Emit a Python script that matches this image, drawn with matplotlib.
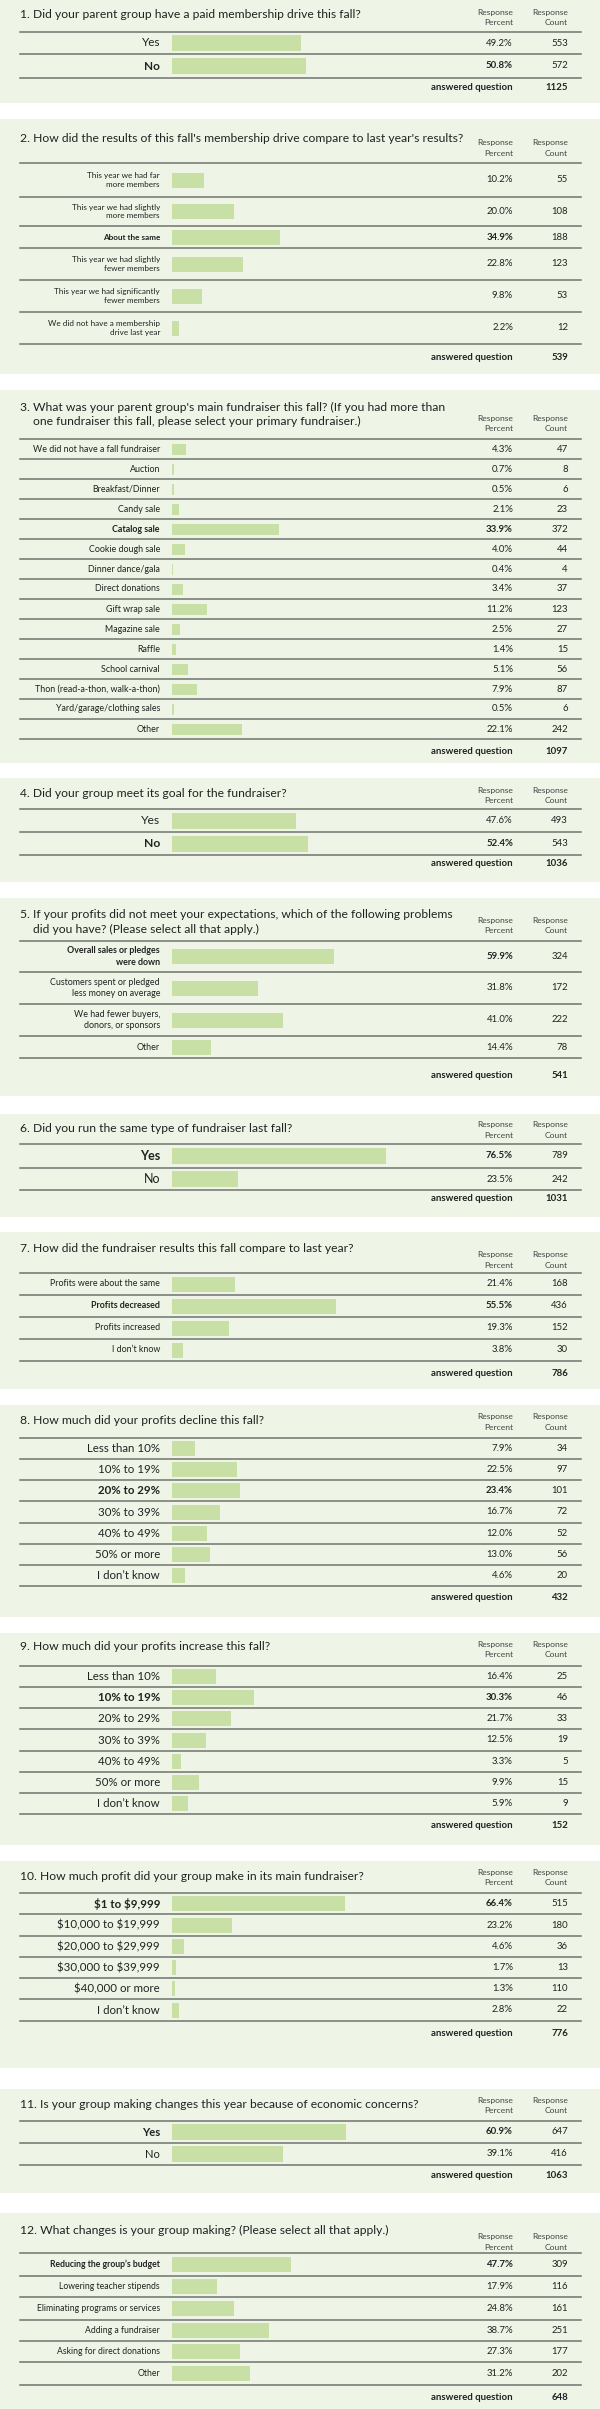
import numpy as np
import matplotlib
matplotlib.use("Agg")
import matplotlib.pyplot as plt
from matplotlib.lines import Line2D
from matplotlib.patches import Rectangle

plt.rcParams['font.family'] = ['Lato', 'DejaVu Sans']

# ---------------- data ----------------
TITLES = [
    ["1. Did your parent group have a paid membership drive this fall?"],
    ["2. How did the results of this fall's membership drive compare to last year's results?"],
    ["3. What was your parent group's main fundraiser this fall? (If you had more than",
     "one fundraiser this fall, please select your primary fundraiser.)"],
    ["4. Did your group meet its goal for the fundraiser?"],
    ["5. If your profits did not meet your expectations, which of the following problems",
     "did you have? (Please select all that apply.)"],
    ["6. Did you run the same type of fundraiser last fall?"],
    ["7. How did the fundraiser results this fall compare to last year?"],
    ["8. How much did your profits decline this fall?"],
    ["9. How much did your profits increase this fall?"],
    ["10. How much profit did your group make in its main fundraiser?"],
    ["11. Is your group making changes this year because of economic concerns?"],
    ["12. What changes is your group making? (Please select all that apply.)"],
]

labels_1 = ["Yes", "No"]
pct_1 = [49.2, 50.8]
cnt_1 = [553, 572]

labels_2 = ["This year we had far\nmore members", "This year we had slightly\nmore members",
            "About the same", "This year we had slightly\nfewer members",
            "This year we had significantly\nfewer members", "We did not have a membership\ndrive last year"]
pct_2 = [10.2, 20.0, 34.9, 22.8, 9.8, 2.2]
cnt_2 = [55, 108, 188, 123, 53, 12]

labels_3 = ["We did not have a fall fundraiser", "Auction", "Breakfast/Dinner", "Candy sale",
            "Catalog sale", "Cookie dough sale", "Dinner dance/gala", "Direct donations",
            "Gift wrap sale", "Magazine sale", "Raffle", "School carnival",
            "Thon (read-a-thon, walk-a-thon)", "Yard/garage/clothing sales", "Other"]
pct_3 = [4.3, 0.7, 0.5, 2.1, 33.9, 4.0, 0.4, 3.4, 11.2, 2.5, 1.4, 5.1, 7.9, 0.5, 22.1]
cnt_3 = [47, 8, 6, 23, 372, 44, 4, 37, 123, 27, 15, 56, 87, 6, 242]

labels_4 = ["Yes", "No"]
pct_4 = [47.6, 52.4]
cnt_4 = [493, 543]

labels_5 = ["Overall sales or pledges\nwere down", "Customers spent or pledged\nless money on average",
            "We had fewer buyers,\ndonors, or sponsors", "Other"]
pct_5 = [59.9, 31.8, 41.0, 14.4]
cnt_5 = [324, 172, 222, 78]

labels_6 = ["Yes", "No"]
pct_6 = [76.5, 23.5]
cnt_6 = [789, 242]

labels_7 = ["Profits were about the same", "Profits decreased", "Profits increased", "I don\u2019t know"]
pct_7 = [21.4, 55.5, 19.3, 3.8]
cnt_7 = [168, 436, 152, 30]

labels_8 = ["Less than 10%", "10% to 19%", "20% to 29%", "30% to 39%", "40% to 49%",
            "50% or more", "I don\u2019t know"]
pct_8 = [7.9, 22.5, 23.4, 16.7, 12.0, 13.0, 4.6]
cnt_8 = [34, 97, 101, 72, 52, 56, 20]

labels_9 = ["Less than 10%", "10% to 19%", "20% to 29%", "30% to 39%", "40% to 49%",
            "50% or more", "I don\u2019t know"]
pct_9 = [16.4, 30.3, 21.7, 12.5, 3.3, 9.9, 5.9]
cnt_9 = [25, 46, 33, 19, 5, 15, 9]

labels_10 = ["$1 to $9,999", "$10,000 to $19,999", "$20,000 to $29,999", "$30,000 to $39,999",
             "$40,000 or more", "I don\u2019t know"]
pct_10 = [66.4, 23.2, 4.6, 1.7, 1.3, 2.8]
cnt_10 = [515, 180, 36, 13, 110, 22]

labels_11 = ["Yes", "No"]
pct_11 = [60.9, 39.1]
cnt_11 = [647, 416]

labels_12 = ["Reducing the group\u2019s budget", "Lowering teacher stipends",
             "Eliminating programs or services", "Adding a fundraiser",
             "Asking for direct donations", "Other"]
pct_12 = [47.7, 17.9, 24.8, 38.7, 27.3, 31.2]
cnt_12 = [309, 116, 161, 251, 177, 202]

answered = [1125, 539, 1097, 1036, 541, 1031, 786, 432, 152, 776, 1063, 648]

LABELS = [labels_1, labels_2, labels_3, labels_4, labels_5, labels_6,
          labels_7, labels_8, labels_9, labels_10, labels_11, labels_12]
PCTS = [pct_1, pct_2, pct_3, pct_4, pct_5, pct_6, pct_7, pct_8, pct_9, pct_10, pct_11, pct_12]
CNTS = [cnt_1, cnt_2, cnt_3, cnt_4, cnt_5, cnt_6, cnt_7, cnt_8, cnt_9, cnt_10, cnt_11, cnt_12]

# ---------------- layout (pixels, y from top) ----------------
W, H = 600, 2409
# bg_top, bg_bottom, title_y, header_y, line0, separators, answered_y
LAYOUT = [
    (0, 103, 15, 12, 32, [54, 78], 87),
    (119, 374, 139, 143, 163, [197, 226, 248, 280, 312, 344], 357),
    (390, 763, 407, 418, 439, [459 + 20 * i for i in range(15)], 751),
    (778, 882, 793, 790, 809, [832, 855], 864),
    (898, 1096, 915, 920, 941, [972, 1004, 1036, 1058], 1076),
    (1114, 1217, 1128, 1125, 1144, [1168, 1190], 1199),
    (1232, 1389, 1249, 1255, 1273, [1295, 1317, 1339, 1361], 1373),
    (1405, 1617, 1420, 1417, 1438, [1459, 1480, 1501, 1523, 1544, 1565, 1586], 1598),
    (1633, 1845, 1647, 1644, 1666, [1687, 1708, 1729, 1751, 1772, 1793, 1814], 1826),
    (1861, 2068, 1877, 1872, 1893, [1914, 1936, 1957, 1978, 1999, 2021], 2033),
    (2089, 2193, 2104, 2100, 2121, [2143, 2165], 2175),
    (2213, 2409, 2230, 2237, 2253, [2276, 2297, 2320, 2341, 2362, 2385], 2398),
]
PX_PER_PCT = [2.63, 3.1, 3.15, 2.6, 2.7, 2.8, 2.95, 2.9, 2.7, 2.6, 2.85, 2.5]
BAR_H = [16, 15, 11, 16, 15, 16, 15, 15, 15, 15, 16, 15]
LABEL_FS = [8.5, 5.9, 6.4, 8.7, 6.4, 9.0, 6.4, 8.3, 8.3, 8.3, 8.0, 6.2]

BG = "#EEF5E6"
BAR = "#C8E0A5"
LINE = "#6F746D"
TXT = "#222222"
LINE_L, LINE_R = 20, 581
BAR_X0 = 172
LABEL_R = 160
PCT_R = 513
CNT_R = 568
TITLE_FS = 8.7
VAL_FS = 6.9
HEAD_FS = 6.1


def fx(x):
    return x / W


def fy(y):
    return 1 - y / H


fig = plt.figure(figsize=(W / 100, H / 100), dpi=100)
fig.patch.set_facecolor("white")

for q in range(12):
    bg_t, bg_b, title_y, head_y, line0, seps, ans_y = LAYOUT[q]
    labels, pcts, cnts = LABELS[q], PCTS[q], CNTS[q]
    best = int(np.argmax(pcts))

    fig.patches.append(Rectangle((0, fy(bg_b)), 1, (bg_b - bg_t) / H,
                                 transform=fig.transFigure, facecolor=BG,
                                 edgecolor="none", zorder=-5))
    # title
    for i, line in enumerate(TITLES[q]):
        xx = LINE_L if i == 0 else LINE_L + 13
        fig.text(fx(xx), fy(title_y + i * 14), line, fontsize=TITLE_FS, color=TXT,
                 ha="left", va="center")
    # headers
    for xr, word in ((PCT_R, "Percent"), (CNT_R, "Count")):
        fig.text(fx(xr), fy(head_y), "Response", fontsize=HEAD_FS, color="#444444",
                 ha="right", va="center")
        fig.text(fx(xr), fy(head_y + 10.5), word, fontsize=HEAD_FS, color="#444444",
                 ha="right", va="center")
    # lines
    for y in [line0] + seps:
        fig.add_artist(Line2D([fx(LINE_L), fx(LINE_R)], [fy(y), fy(y)],
                              transform=fig.transFigure, color=LINE, lw=1.1, zorder=3))
    # bars axis
    y_top, y_bot = line0, seps[-1]
    ax = fig.add_axes([fx(BAR_X0), fy(y_bot), (LINE_R - BAR_X0) / W, (y_bot - y_top) / H])
    ax.set_xlim(0, (LINE_R - BAR_X0) / PX_PER_PCT[q])
    ax.set_ylim(y_bot, y_top)
    ax.axis("off")
    ax.patch.set_alpha(0)
    edges = [line0] + seps
    centers = [(edges[i] + edges[i + 1]) / 2 for i in range(len(labels))]
    ax.barh(centers, pcts, height=BAR_H[q], color=BAR, edgecolor="none", align="center")

    for i, (lab, p, c) in enumerate(zip(labels, pcts, cnts)):
        yc = centers[i]
        wt = "bold" if i == best else "normal"
        fig.text(fx(LABEL_R), fy(yc), lab.replace("$", r"\$"), fontsize=LABEL_FS[q],
                 color=TXT, ha="right", va="center", fontweight=wt, linespacing=1.3,
                 multialignment="right")
        fig.text(fx(PCT_R), fy(yc), f"{p:.1f}%", fontsize=VAL_FS, color=TXT, ha="right",
                 va="center", fontweight=wt)
        fig.text(fx(CNT_R), fy(yc), f"{c}", fontsize=VAL_FS, color=TXT, ha="right",
                 va="center")
    fig.text(fx(PCT_R), fy(ans_y), "answered question", fontsize=VAL_FS, color=TXT,
             ha="right", va="center", fontweight="bold")
    fig.text(fx(CNT_R), fy(ans_y), f"{answered[q]}", fontsize=VAL_FS, color=TXT,
             ha="right", va="center", fontweight="bold")

fig.savefig("out.png", dpi=100, facecolor="white")
